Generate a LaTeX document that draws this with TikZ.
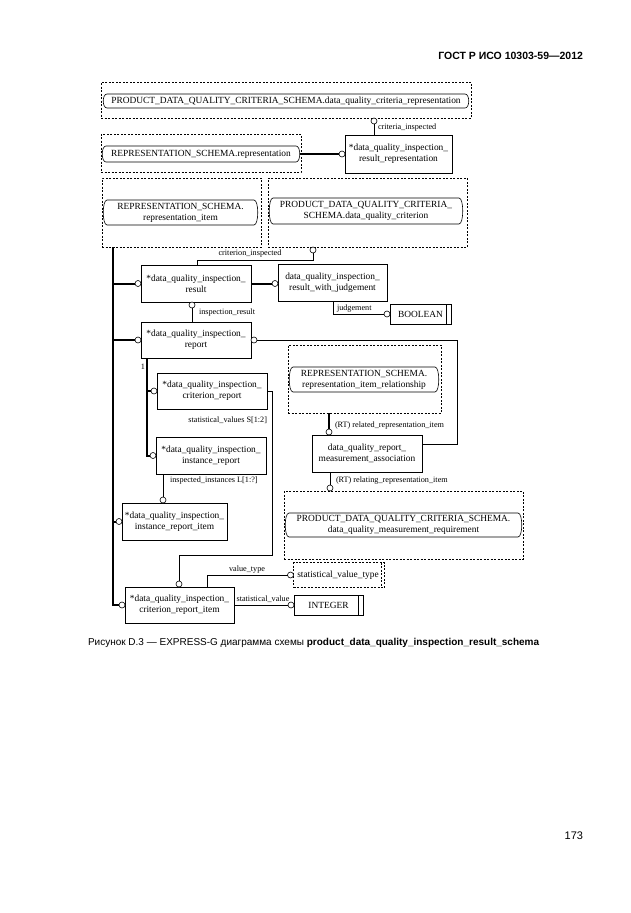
\documentclass[tikz,border=0pt]{standalone}
\usepackage{fontspec}
\setmainfont{Liberation Serif}
\newfontfamily\capfont{Liberation Sans}
\newcommand\pillpath[1]{\draw[line width=0.6pt] ([xshift=4pt]#1.north west) -- ([xshift=-4pt]#1.north east) .. controls +(5,0) and +(5,0) .. ([xshift=-4pt]#1.south east) -- ([xshift=4pt]#1.south west) .. controls +(-5,0) and +(-5,0) .. cycle;}
\begin{document}
\begin{tikzpicture}[x=1pt,y=-1pt,
  every node/.style={inner sep=0pt, outer sep=0pt},
  dfont/.style={font=\fontsize{9.4}{11}\selectfont},
  lfont/.style={font=\fontsize{8.2}{9}\selectfont},
  ent/.style={draw, line width=0.6pt, align=center, dfont},
  refbox/.style={draw, dash pattern=on 2pt off 1.5pt, line width=0.5pt},
  pill/.style={align=center, dfont},
  circ/.style={circle, draw, fill=white, line width=0.6pt, minimum size=6pt},
  rel/.style={line width=0.6pt},
  sub/.style={line width=2pt},
  lbl/.style={lfont}
]
\fill[white] (0,0) rectangle (630,913);
\useasboundingbox (0,0) rectangle (630,913);

% header, page number, caption
\node[anchor=east, font=\capfont\bfseries\fontsize{10.5}{12}\selectfont] (hdr) at (583,56) {ГОСТ Р ИСО 10303-59—2012};
\node[anchor=east, font=\capfont\fontsize{11}{13}\selectfont] (pg) at (583,836) {173};
\node[anchor=west, font=\capfont\fontsize{10}{12}\selectfont] (cap) at (88,643) {Рисунок D.3 — EXPRESS-G диаграмма схемы \textbf{product\_data\_quality\_inspection\_result\_schema}};

% reference boxes and pills
\node[refbox, minimum width=370pt, minimum height=36pt] (ref1) at (286,100) {};
\node[pill, minimum width=366pt, minimum height=14pt] (pill1) at (286,101) {PRODUCT\_DATA\_QUALITY\_CRITERIA\_SCHEMA.data\_quality\_criteria\_representation};
\node[refbox, minimum width=200pt, minimum height=38pt] (ref2) at (201,153) {};
\node[pill, minimum width=198pt, minimum height=16pt] (pill2) at (201,154) {REPRESENTATION\_SCHEMA.representation};
\node[refbox, minimum width=159pt, minimum height=69pt] (ref3) at (181.5,212.5) {};
\node[pill, minimum width=155pt, minimum height=25pt] (pill3) at (180.5,212.5) {REPRESENTATION\_SCHEMA.\\representation\_item};
\node[refbox, minimum width=199pt, minimum height=69pt] (ref4) at (367.5,212.5) {};
\node[pill, minimum width=194pt, minimum height=26pt] (pill4) at (366,211) {PRODUCT\_DATA\_QUALITY\_CRITERIA\_\\SCHEMA.data\_quality\_criterion};
\node[refbox, minimum width=153pt, minimum height=68pt] (ref5) at (364.5,379) {};
\node[pill, minimum width=150pt, minimum height=25pt] (pill5) at (364,379.5) {REPRESENTATION\_SCHEMA.\\representation\_item\_relationship};
\node[refbox, minimum width=239pt, minimum height=68pt] (ref6) at (403.5,525) {};
\node[pill, minimum width=237pt, minimum height=24pt] (pill6) at (403.5,525) {PRODUCT\_DATA\_QUALITY\_CRITERIA\_SCHEMA.\\data\_quality\_measurement\_requirement};
\pillpath{pill1}
\pillpath{pill2}
\pillpath{pill3}
\pillpath{pill4}
\pillpath{pill5}
\pillpath{pill6}

% entities
\node[ent, minimum width=107pt, minimum height=38pt] (rr) at (398.5,154) {*data\_quality\_inspection\_\\result\_representation};
\node[ent, minimum width=110pt, minimum height=37pt] (result) at (196,283.5) {*data\_quality\_inspection\_\\result};
\node[ent, minimum width=109pt, minimum height=37pt] (rwj) at (332.5,282.5) {data\_quality\_inspection\_\\result\_with\_judgement};
\node[ent, minimum width=61pt, minimum height=20pt] (bool) at (420.5,314) {BOOLEAN};
\node[ent, minimum width=110pt, minimum height=36pt] (report) at (196,340) {*data\_quality\_inspection\_\\report};
\node[ent, minimum width=110pt, minimum height=36pt] (critrep) at (212,391) {*data\_quality\_inspection\_\\criterion\_report};
\node[ent, minimum width=110pt, minimum height=37pt] (instrep) at (211,455.5) {*data\_quality\_inspection\_\\instance\_report};
\node[ent, minimum width=105pt, minimum height=37pt] (institem) at (174.5,521.5) {*data\_quality\_inspection\_\\instance\_report\_item};
\node[ent, minimum width=109pt, minimum height=36pt] (crititem) at (179.5,605) {*data\_quality\_inspection\_\\criterion\_report\_item};
\node[ent, minimum width=110pt, minimum height=37pt] (assoc) at (367,453.5) {data\_quality\_report\_\\measurement\_association};
\node[refbox, align=center, dfont, minimum width=91pt, minimum height=25pt] (svt) at (339,575) {statistical\_value\_type\hspace{2pt}};
\node[ent, minimum width=69pt, minimum height=20pt] (integer) at (328.5,605) {INTEGER};
\draw[rel] ([xshift=-5pt]bool.north east) -- ([xshift=-5pt]bool.south east);
\draw[rel] ([xshift=-5pt]integer.north east) -- ([xshift=-5pt]integer.south east);
\draw[refbox] ([xshift=-3pt]svt.north east) -- ([xshift=-3pt]svt.south east);

% circles
\node[circ, anchor=north] (c1) at (374,0 |- ref1.south) {};
\node[circ, anchor=east] (c2) at (rr.west) {};
\node[circ, anchor=north] (c3) at (313,0 |- ref4.south) {};
\node[circ, anchor=east] (c4) at (result.west) {};
\node[circ, anchor=east] (c5) at (rwj.west |- result.east) {};
\node[circ, anchor=east] (c6) at (bool.west) {};
\node[circ, anchor=north] (c8) at (192,0 |- result.south) {};
\node[circ, anchor=east] (c9) at (report.west) {};
\node[circ, anchor=west] (c10) at (report.east) {};
\node[circ, anchor=east] (c11) at (critrep.west) {};
\node[circ, anchor=east] (c12) at (instrep.west) {};
\node[circ, anchor=south] (c13) at (179,0 |- crititem.north) {};
\node[circ, anchor=south] (c14) at (163,0 |- institem.north) {};
\node[circ, anchor=east] (c15) at (institem.west) {};
\node[circ, anchor=east] (c16) at (crititem.west) {};
\node[circ, anchor=east] (c17) at (svt.west) {};
\node[circ, anchor=east] (c18) at (integer.west) {};
\node[circ, anchor=south] (c19) at (329,0 |- assoc.north) {};
\node[circ, anchor=south] (c20) at (330,0 |- ref6.north) {};

% connectors
\draw[rel] (c1) -- (c1 |- rr.north);
\draw[sub] (pill2.east) -- (c2);
\draw[rel] (c3) |- (197,260) -- (197,0 |- result.north);
\coordinate (bustop) at (113,0 |- ref3.south);
\draw[sub] (bustop) -- (113,0 |- c16) -- (c16);
\draw[sub] (113,0 |- c4) -- (c4);
\draw[sub] (113,0 |- c9) -- (c9);
\draw[sub] (113,0 |- c15) -- (c15);
\draw[sub] (result.east |- c5) -- (c5);
\draw[rel] (333,0 |- rwj.south) |- (c6);
\draw[rel] (c8) -- (c8 |- report.north);
\draw[rel] (c10) -- (457,0 |- c10) -- (457,444) -- (assoc.east |- 0,444);
\draw[sub] (147,0 |- report.south) -- (147,0 |- c12) -- (c12);
\draw[sub] (147,0 |- c11) -- (c11);
\draw[rel] (critrep.east) -- (272,0 |- critrep.east) -- (272,555) -| (c13);
\draw[rel] (163,0 |- instrep.south) -- (c14);
\draw[rel] (207,0 |- crititem.north) |- (c17);
\draw[rel] (crititem.east) -- (c18);
\draw[sub] (329,0 |- ref5.south) -- (c19);
\draw[rel] (330,0 |- assoc.south) -- (c20);

% labels
\node[lbl, anchor=west] (lci) at (378,128) {criteria\_inspected};
\node[lbl] (lcr) at (250,254) {criterion\_inspected};
\node[lbl, anchor=south west] (ljd) at (337,312) {judgement};
\node[lbl, anchor=west] (lir) at (199,313) {inspection\_result};
\node[lbl, anchor=east] (lone) at (145,367) {1};
\node[lbl, anchor=east] (lsv) at (267,420) {statistical\_values S[1:2]};
\node[lbl, anchor=west] (lii) at (170,481) {inspected\_instances L[1:?]};
\node[lbl, anchor=south] (lvt) at (247,573) {value\_type};
\node[lbl, anchor=south] (lsvl) at (263,603) {statistical\_value};
\node[lbl, anchor=west] (lrel) at (335,426) {(RT) related\_representation\_item};
\node[lbl, anchor=west] (lrlt) at (336,481) {(RT) relating\_representation\_item};
\end{tikzpicture}
\end{document}
